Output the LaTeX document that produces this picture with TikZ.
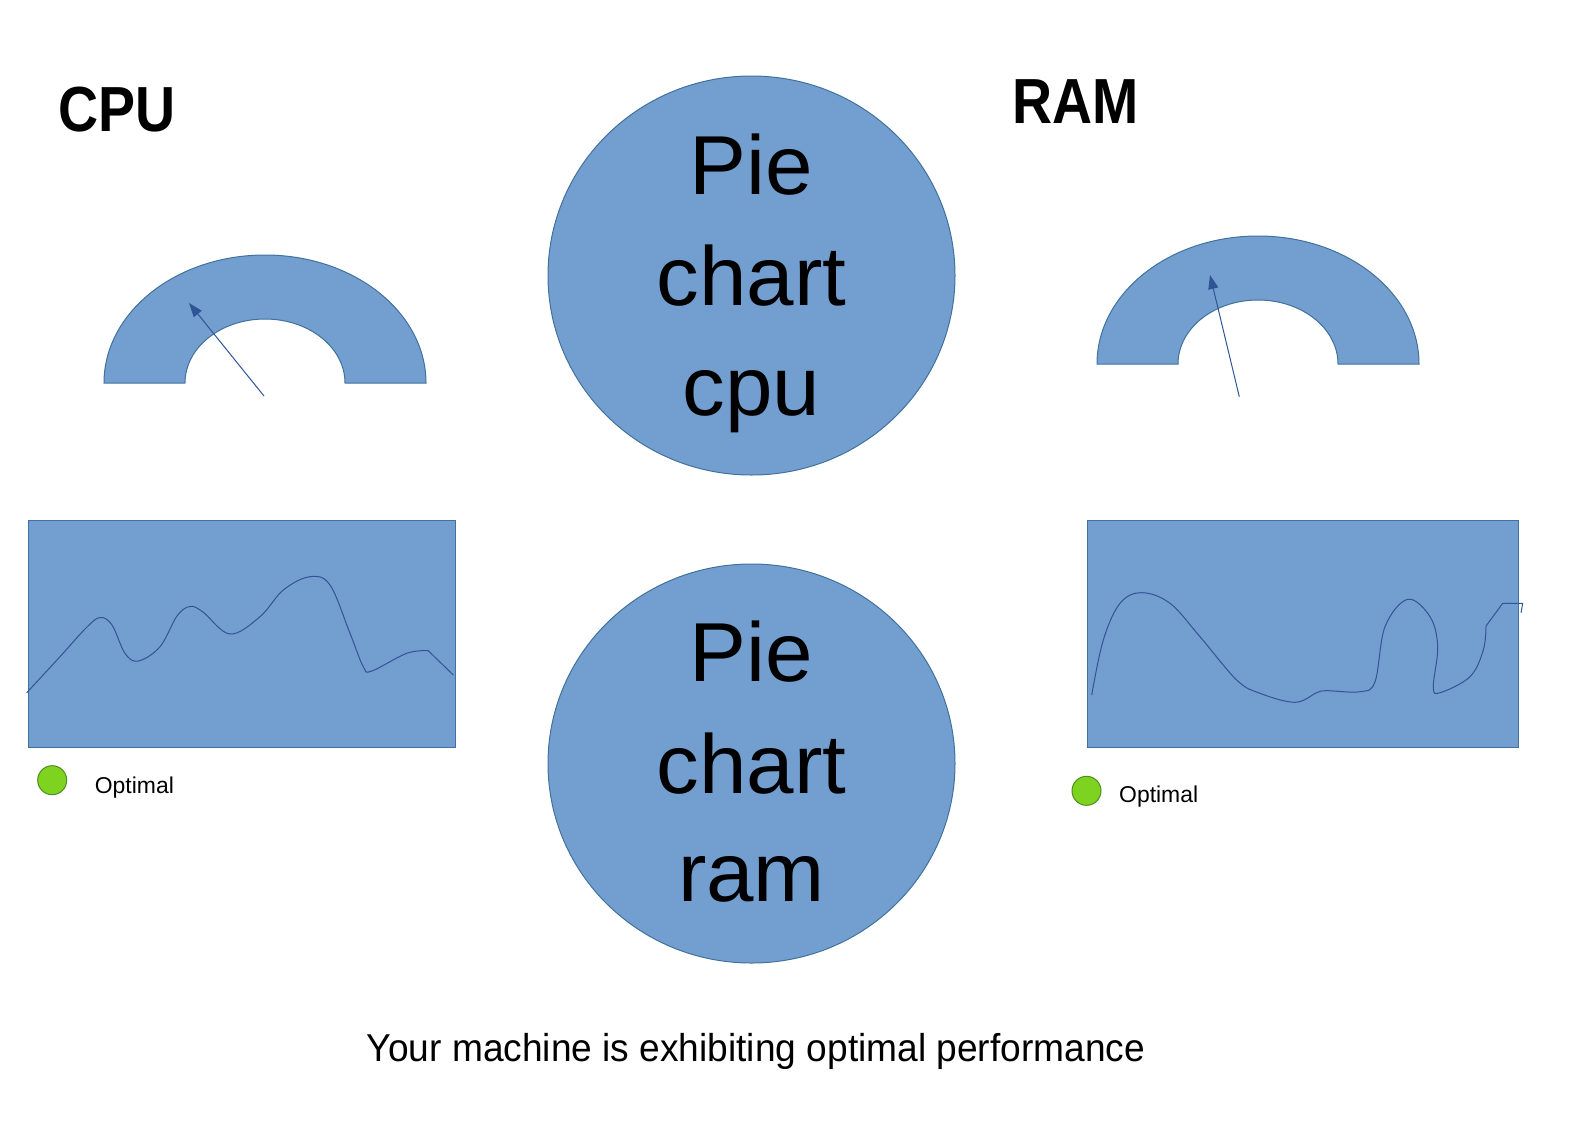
\documentclass[tikz,border=0pt]{standalone}
\usepackage{fontspec}
\setmainfont{Liberation Sans}
\newfontfamily\titlefont[FakeStretch=0.87]{Liberation Sans}
\newfontfamily\capfont[FakeStretch=0.955]{Liberation Sans}
\newfontfamily\piefont[FakeStretch=1.02]{Liberation Sans}
\usetikzlibrary{arrows.meta,shapes.geometric}
\definecolor{gfill}{RGB}{114,159,207}
\definecolor{gline}{RGB}{65,113,156}
\definecolor{curvec}{RGB}{47,85,151}
\definecolor{okfill}{RGB}{126,211,33}
\definecolor{okline}{RGB}{80,140,30}
\begin{document}
\begin{tikzpicture}[x=1bp,y=-1bp,
  panel/.style={fill=gfill,draw=gline,line width=1bp},
  chartbox/.style={rectangle,fill=gfill,draw=gline,line width=1bp,inner sep=0,anchor=north west},
  pie/.style={ellipse,fill=gfill,draw=gline,line width=1bp,minimum width=407bp,minimum height=399bp,inner sep=0},
  pietext/.style={anchor=base,inner sep=0,font=\piefont\fontsize{84}{100}\selectfont},
  title/.style={anchor=base west,inner sep=0,font=\titlefont\bfseries\fontsize{64}{70}\selectfont},
  trace/.style={draw=curvec,line width=1bp},
  needle/.style={draw=curvec,line width=1bp,-{Triangle[length=14bp,width=10bp]}},
  okdot/.style={circle,fill=okfill,draw=okline,line width=1bp,minimum size=29bp,inner sep=0},
  oklabel/.style={anchor=base west,inner sep=0,font=\fontsize{23}{26}\selectfont}]
\useasboundingbox (0,0) rectangle (1588,1123);

% titles
\node[title] (tcpu) at (58,131) {CPU};
\node[title] (tram) at (1012,123.5) {RAM};

% pie charts
\node[pie] (pcpu) at (751.5,275.5) {};
\node[pietext] (pcpu1) at (751.5,194.4) {Pie};
\node[pietext] (pcpu2) at (751.5,305.8) {chart};
\node[pietext] (pcpu3) at (751.5,415.2) {cpu};
\node[pie] (pram) at (751.5,763.5) {};
\node[pietext] (pram1) at (751.5,681.5) {Pie};
\node[pietext] (pram2) at (751.5,793) {chart};
\node[pietext] (pram3) at (751.5,901.3) {ram};

% gauges
\draw[panel] (104,383) arc[start angle=180,end angle=360,x radius=161,y radius=128]
  -- (345,383) arc[start angle=360,end angle=180,x radius=80,y radius=64] -- cycle;
\coordinate (ncpuA) at (264,396);
\coordinate (ncpuB) at (189,303);
\draw[needle] (ncpuA) -- (ncpuB);

\draw[panel] (1097,364) arc[start angle=180,end angle=360,x radius=161,y radius=128]
  -- (1338,364) arc[start angle=360,end angle=180,x radius=80,y radius=64] -- cycle;
\coordinate (nramA) at (1239.3,396.7);
\coordinate (nramB) at (1210,275);
\draw[needle] (nramA) -- (nramB);

% charts
\node[chartbox,minimum width=427.3bp,minimum height=227bp] (ccpu) at (27.7,520) {};
\node[chartbox,minimum width=431bp,minimum height=227bp] (cram) at (1087,520) {};

\draw[trace] plot[smooth,tension=0.6] coordinates {(26.7,692.7) (60,656.7) (86,628) (100,617.5) (112,625) (125,653.3) (138.3,661) (160,646.7) (177,616) (190,606.5) (203,612) (230,634) (260,616.7) (283.3,590) (310,576.7) (330,585) (350,633.3) (363.3,666.7) (371.7,671) (406.7,653.3) (428.3,650.7)} -- (453.3,675);

\draw[trace] plot[smooth,tension=0.6] coordinates {(1091.7,695) (1103.3,640) (1120,603.3) (1141.7,592.7) (1170,603.3) (1200,636.7) (1236.7,680) (1260,693.3) (1295,702.3) (1316.7,692.7) (1326.7,690.7) (1360,691.7) (1375,681.7) (1385,626.7) (1407.7,599.3) (1430,616.7) (1437.7,646.7) (1433.3,686.7) (1440,692.7) (1470,676.7) (1483.3,650) (1486,626)} -- (1502.7,603.3) -- (1522.7,603.3) -- (1521,612.7);

% legends
\node[okdot] (okcpu) at (52.2,780.2) {};
\node[oklabel] (lcpu) at (94.7,793.3) {Optimal};
\node[okdot] (okram) at (1086.5,790.8) {};
\node[oklabel] (lram) at (1119,802.7) {Optimal};

% status line
\node[anchor=base,inner sep=0,font=\capfont\fontsize{39}{44}\selectfont] (status) at (756,1061) {Your machine is exhibiting optimal performance};
\end{tikzpicture}
\end{document}
